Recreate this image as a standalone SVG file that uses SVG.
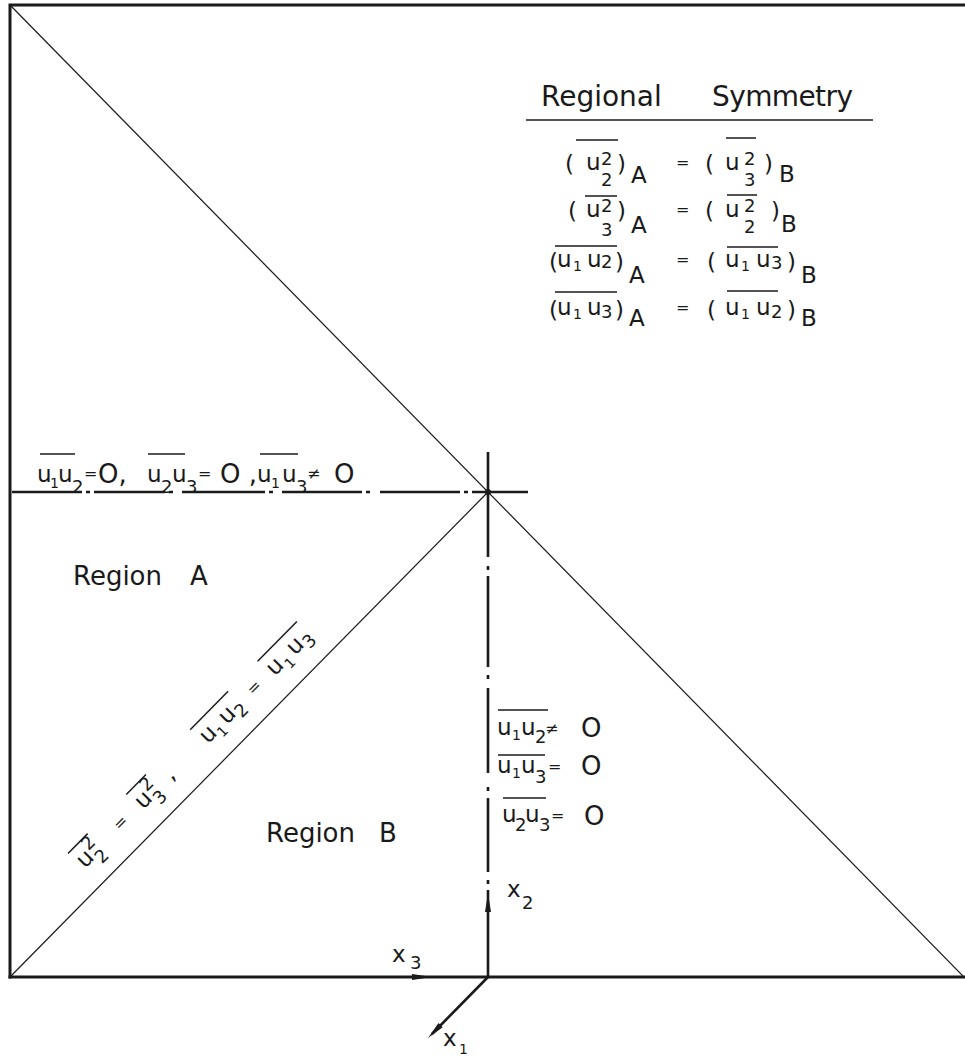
<svg xmlns="http://www.w3.org/2000/svg" width="965" height="1057" viewBox="0 0 965 1057">
<style>
text{font-family:"DejaVu Sans","Liberation Sans",sans-serif;fill:#1a1a1a}
.m{font-size:23px}
.b{font-size:26px}
.h{font-size:28px}
.s{font-size:18px}
.o{font-size:14px}
.e{font-size:16px}
.ov{stroke:#1a1a1a;stroke-width:1.5;fill:none}
.frame{stroke:#1a1a1a;stroke-width:3;fill:none;stroke-linecap:square}
.thin{stroke:#1a1a1a;stroke-width:1.2;fill:none}
.axis{stroke:#1a1a1a;stroke-width:2.6;fill:none}
.ah{fill:#1a1a1a;stroke:none}
</style>
<rect width="965" height="1057" fill="#ffffff"/>
<g id="frame">
<path class="frame" d="M10,977 L10,5 L965,5"/>
<path class="frame" d="M10,977 L965,977"/>
</g>
<g id="connectors">
<line class="thin" x1="10" y1="5" x2="965" y2="978"/>
<line class="thin" x1="10" y1="977" x2="488" y2="492"/>
<path class="axis" d="M12,492H82M86,492H90M94,492H165M169,492H173M182,492H265M269,492H273M282,492H362M366,492H370M380,492H460M464,492H468M472,492H528"/>
<path class="axis" d="M488,452V557M488,566V570M488,576V667M488,675V679M488,688V773M488,787V791M488,798V872M488,880V884M488,890V977"/>
<circle cx="488" cy="492" r="3" class="ah"/>
<line class="axis" x1="488" y1="977" x2="432" y2="1034"/>
<polygon class="ah" points="488,893 491,912 485,912"/>
<polygon class="ah" points="432,977 412,980 412,974"/>
<polygon class="ah" points="428,1038 442.7,1027.3 438.5,1023.1"/>
</g>
<g id="axis-labels">
<text class="m" x="507" y="897">x</text><text class="s" x="522" y="909">2</text>
<text class="m" x="392" y="962">x</text><text class="s" x="410" y="969">3</text>
<text class="m" x="443" y="1046">x</text><text class="o" x="459" y="1054">1</text>
</g>
<g id="symmetry-table">
<text class="h" x="541" y="106">Regional</text>
<text class="h" x="712" y="106" letter-spacing="-0.6">Symmetry</text>
<line class="ov" x1="526" y1="120" x2="873" y2="120"/>
<!-- row 1 -->
<text class="m" x="565" y="172">(</text><text class="m" x="586" y="170">u</text>
<text class="s" x="601" y="165">2</text><text class="s" x="601" y="186">2</text>
<text class="m" x="617" y="172">)</text><text class="m" x="631" y="183">A</text>
<text class="e" x="676" y="168">=</text>
<text class="m" x="705" y="172">(</text><text class="m" x="725" y="170">u</text>
<text class="s" x="744" y="165">2</text><text class="s" x="744" y="186">3</text>
<text class="m" x="764" y="172">)</text><text class="m" x="779" y="182">B</text>
<line class="ov" x1="576" y1="140" x2="618" y2="140"/>
<line class="ov" x1="726" y1="138" x2="756" y2="138"/>
<!-- row 2 -->
<text class="m" x="568" y="219">(</text><text class="m" x="586" y="217">u</text>
<text class="s" x="601" y="212">2</text><text class="s" x="601" y="236">3</text>
<text class="m" x="617" y="219">)</text><text class="m" x="631" y="233">A</text>
<text class="e" x="676" y="215">=</text>
<text class="m" x="705" y="219">(</text><text class="m" x="725" y="217">u</text>
<text class="s" x="744" y="212">2</text><text class="s" x="744" y="233">2</text>
<text class="m" x="771" y="219">)</text><text class="m" x="781" y="232">B</text>
<line class="ov" x1="585" y1="196" x2="617" y2="196"/>
<line class="ov" x1="727" y1="195" x2="757" y2="195"/>
<!-- row 3 -->
<text class="m" x="549" y="270">(</text><text class="m" x="557" y="267">u</text>
<text class="o" x="573" y="271">1</text><text class="m" x="587" y="267">u</text>
<text class="s" x="601" y="268">2</text>
<text class="m" x="615" y="270">)</text><text class="m" x="629" y="283">A</text>
<text class="e" x="676" y="265">=</text>
<text class="m" x="707" y="270">(</text><text class="m" x="725" y="267">u</text>
<text class="o" x="741" y="271">1</text><text class="m" x="756" y="267">u</text>
<text class="s" x="771" y="269">3</text>
<text class="m" x="787" y="270">)</text><text class="m" x="801" y="283">B</text>
<line class="ov" x1="555" y1="246" x2="617" y2="246"/>
<line class="ov" x1="727" y1="247" x2="778" y2="247"/>
<!-- row 4 -->
<text class="m" x="549" y="318">(</text><text class="m" x="557" y="315">u</text>
<text class="o" x="573" y="319">1</text><text class="m" x="587" y="315">u</text>
<text class="s" x="601" y="318">3</text>
<text class="m" x="615" y="318">)</text><text class="m" x="629" y="326">A</text>
<text class="e" x="676" y="313">=</text>
<text class="m" x="707" y="318">(</text><text class="m" x="725" y="315">u</text>
<text class="o" x="741" y="319">1</text><text class="m" x="756" y="315">u</text>
<text class="s" x="771" y="318">2</text>
<text class="m" x="787" y="318">)</text><text class="m" x="801" y="326">B</text>
<line class="ov" x1="555" y1="292" x2="617" y2="292"/>
<line class="ov" x1="727" y1="291" x2="778" y2="291"/>
</g>
<g id="horizontal-label">
<text class="m" x="37" y="482">u</text><text class="o" x="50" y="488">1</text>
<text class="m" x="58" y="482">u</text><text class="s" x="72" y="493">2</text>
<text class="e" x="84" y="479">=</text><text class="b" x="98" y="483">O,</text>
<text class="m" x="147" y="482">u</text><text class="s" x="161" y="493">2</text>
<text class="m" x="172" y="482">u</text><text class="s" x="186" y="493">3</text>
<text class="e" x="198" y="479">=</text><text class="b" x="220" y="483">O ,</text>
<text class="m" x="257" y="482">u</text><text class="o" x="271" y="488">1</text>
<text class="m" x="282" y="482">u</text><text class="s" x="296" y="493">3</text>
<text class="e" x="307" y="479">≠</text><text class="b" x="334" y="483">O</text>
<line class="ov" x1="40" y1="454" x2="75" y2="454"/>
<line class="ov" x1="148" y1="454" x2="185" y2="454"/>
<line class="ov" x1="260" y1="454" x2="298" y2="454"/>
</g>
<g id="region-a">
<text class="b" x="73" y="585">Region</text><text class="b" x="190" y="585">A</text>
</g>
<g id="region-b">
<text class="b" x="266" y="842">Region</text><text class="b" x="379" y="842">B</text>
</g>
<g id="diagonal-label" transform="translate(90,864) rotate(-45.4)">
<text class="m" x="-7" y="0">u</text><text class="s" x="8" y="-10">2</text><text class="s" x="8" y="9">2</text>
<line class="ov" x1="-8" y1="-23" x2="20" y2="-23"/>
<text class="e" x="44" y="-2">=</text>
<text class="m" x="76" y="0">u</text><text class="s" x="91" y="-10">2</text><text class="s" x="91" y="9">3</text>
<line class="ov" x1="75" y1="-23" x2="103" y2="-23"/>
<text class="m" x="116" y="0">,</text>
<text class="m" x="168" y="0">u</text><text class="o" x="183" y="6">1</text>
<text class="m" x="195" y="0">u</text><text class="s" x="210" y="6">2</text>
<line class="ov" x1="166" y1="-23" x2="220" y2="-23"/>
<text class="e" x="234" y="-2">=</text>
<text class="m" x="263" y="0">u</text><text class="o" x="279" y="6">1</text>
<text class="m" x="292" y="0">u</text><text class="s" x="307" y="6">3</text>
<line class="ov" x1="262" y1="-23" x2="318" y2="-23"/>
</g>
<g id="vertical-label">
<text class="m" x="497" y="735">u</text><text class="o" x="512" y="740">1</text>
<text class="m" x="521" y="735">u</text><text class="s" x="535" y="743">2</text>
<text class="e" x="545" y="734">≠</text><text class="b" x="581" y="737">O</text>
<line class="ov" x1="498" y1="710" x2="548" y2="710"/>
<text class="m" x="497" y="773">u</text><text class="o" x="512" y="778">1</text>
<text class="m" x="521" y="773">u</text><text class="s" x="535" y="783">3</text>
<text class="e" x="548" y="772">=</text><text class="b" x="581" y="775">O</text>
<line class="ov" x1="498" y1="755" x2="545" y2="755"/>
<text class="m" x="502" y="822">u</text><text class="s" x="515" y="831">2</text>
<text class="m" x="525" y="822">u</text><text class="s" x="539" y="831">3</text>
<text class="e" x="551" y="821">=</text><text class="b" x="584" y="825">O</text>
<line class="ov" x1="503" y1="798" x2="546" y2="798"/>
</g>
</svg>
